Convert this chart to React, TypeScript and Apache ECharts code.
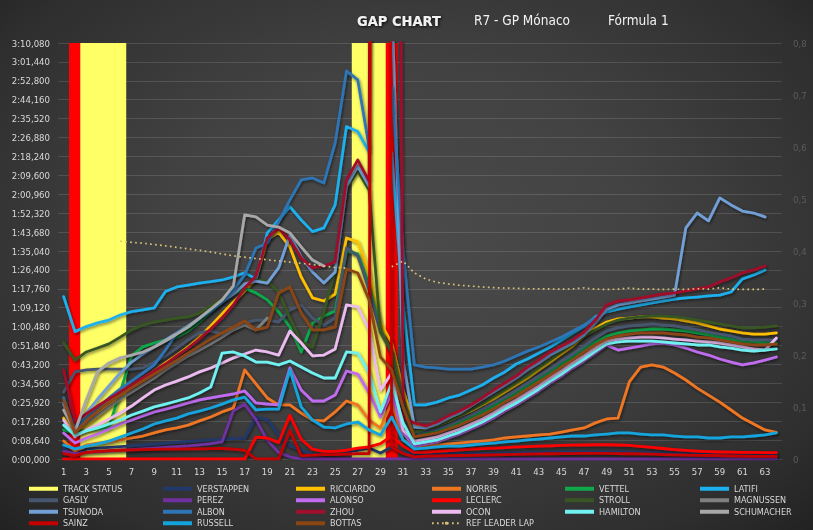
import React, { useEffect, useRef } from 'react';
import * as echarts from 'echarts';

const FONT = "'Liberation Sans Narrow', 'DejaVu Sans Condensed', 'Liberation Sans', sans-serif";

// Laps 1..64
const laps: string[] = Array.from({ length: 64 }, (_, i) => String(i + 1));

// Track status per lap: Y = yellow (SC/VSC), R = red flag
const trackStatus: (string | null)[] = [
  null, 'R', 'Y', 'Y', 'Y', 'Y', null, null, null, null, null, null, null, null, null, null,
  null, null, null, null, null, null, null, null, null, null, 'Y', 'Y', 'Y', 'R', null, null,
  null, null, null, null, null, null, null, null, null, null, null, null, null, null, null, null,
  null, null, null, null, null, null, null, null, null, null, null, null, null, null, null, null,
];
const TRACK_FLAG_VALUE = 0.8;

// Gaps to leader in seconds
const verstappen = [5, 2, 4.5, 5, 5.3, 5.7, 6, 6.4, 6.8, 7.2, 7.6, 8, 8.4, 8.7, 9, 9.3, 9.5,
  19, 18, 11, 6, 4, 2, 2, 2.5, 3.3, 4, 5, 2.7, 5.5, 3, 2,
  2.1, 2.2, 2.3, 2.4, 2.5, 2.6, 2.7, 2.8, 2.9, 3.0, 3.1, 3.2, 3.3, 3.3, 3.4, 3.4, 3.4, 3.3, 3.2, 3.1, 3.0, 2.8, 2.6, 2.4, 2.2, 2.0, 1.9, 1.8, 1.7, 1.6, 1.5, 1.5];
const ricciardo = [18.7, 11.9, 15.5, 19.7, 24.2, 28.8, 32.9, 36.6, 40.2, 43.9, 47.5, 51.2, 55.7, 60.8, 66.3, 71.7, 76.8,
  82.3, 100.1, 103.7, 96.9, 83.2, 73.6, 72.2, 75.4, 101, 99.2, 85, 62.2, 53, 31.5, 15.5,
  14.6, 15.5, 17.4, 19.7, 21.9, 24.7, 27.4, 30.6, 33.8, 37, 40.7, 44.3, 48, 51.6, 56.2, 59.9, 62.6, 64, 64.4, 64.9, 64.9, 64.4, 64, 63.1, 62.2, 60.8, 59.4, 58.5, 57.6, 57.1, 57.1, 57.6];
const norris = [8.2, 3.7, 6.4, 7.3, 7.8, 8.7, 9.6, 10.5, 11.9, 13.3, 14.2, 15.5, 17.4, 19.2, 21.5, 23.3, 40.7,
  34.3, 27.9, 24.7, 24.7, 21, 17.8, 17.4, 21.5, 26.5, 24.7, 17.8, 14.2, 26, 8.7, 5.5,
  5.9, 6.4, 6.9, 7.3, 7.8, 8.2, 8.7, 9.6, 10.1, 10.5, 11, 11.4, 12.3, 13.3, 14.2, 16.5, 18.3, 18.7, 35.2, 42, 43, 42, 39.3, 36.1, 32.4, 29.2, 26, 22.4, 18.7, 16, 13.3, 12.2];
const vettel = [13.3, 11.9, 13.3, 13.7, 14.6, 30.6, 47.1, 51.2, 53, 54.4, 55.7, 58.5, 62.6, 67.2, 71.7, 75.4, 78.1,
  75.9, 72.7, 67.2, 60.3, 48.9, 62.2, 65.3, 67.6, 95, 93.7, 79.5, 59, 48.9, 26, 10.5,
  11.9, 12.8, 14.6, 16.5, 18.7, 21.5, 24.2, 27, 30.2, 33.4, 36.6, 39.8, 43.4, 46.6, 50.3, 53.5, 56.2, 57.6, 58.5, 59, 59.4, 59.4, 59, 58.5, 57.6, 56.7, 55.7, 54.8, 53.9, 53.5, 53, 53];
const latifi = [74.2, 58.2, 60.5, 62.2, 63.5, 65.8, 67.3, 68.1, 69, 76.5, 78.6, 79.5, 80.4, 81, 81.8, 83.2, 85.1,
  82.3, 103.3, 109.2, 115.3, 109.2, 103.9, 105.6, 116.1, 151.9, 149.6, 140.4, null, 140, 70, 24.7,
  24.7, 26, 27.9, 29.2, 31.5, 33.8, 37, 39.8, 43.4, 45.7, 48.4, 51.2, 54.4, 57.6, 60.5, 65, 67.2, 68.5, 69.5, 70.4, 71.3, 72.2, 73.1, 73.6, 74, 74.5, 74.9, 76.3, 82.3, 84.1, 86.4, null];
const gasly = [30.6, 39.8, 40.7, 41.1, 41.1, 41.1, 41.1, 41.6, 44.3, 47.1, 50.7, 54.4, 57.6, 58.5, 57.1, 59, 62.2,
  63.5, 63.5, 62.6, 68.1, 70.4, 64.4, 61.2, 64.4, 96.4, 92.8, 77.2, 58, 48.9, 27, 11.4,
  12.8, 13.7, 15.5, 17.8, 20.1, 22.8, 25.6, 28.3, 31.5, 34.7, 37.9, 41.1, 44.8, 48, 51.6, 55.3, 58.5, 59.9, 60.8, 61.2, 61.7, 61.2, 60.8, 59.9, 59, 58, 57.1, 56.2, 54.8, 54.4, 54.4, 54.4];
const perez = [3.5, 2.5, 3, 3.3, 3.6, 4, 4.3, 4.6, 5, 5.3, 5.7, 6, 6.5, 7, 7.8, 22, 25,
  18, 8.5, 3, 1, 0, 0, 0, 0, 0, 0, 0, 0, 0, 0, 0,
  0, 0, 0, 0, 0, 0, 0, 0, 0, 0, 0, 0, 0, 0, 0, 0, 0, 0, 0, 0, 0, 0, 0, 0, 0, 0, 0, 0, 0, 0, 0, 0];
const alonso = [11.9, 7.3, 9.6, 11.4, 13.7, 16, 17.8, 19.7, 21.5, 22.8, 24.2, 25.6, 27, 27.9, 28.8, 29.7, 31.1,
  25.6, 25.1, 24.7, 41.6, 31.5, 26.5, 26.5, 29.2, 40.2, 38.8, 30.2, 19.2, 30.2, 11.9, 5.9,
  6.9, 7.8, 9.6, 11.4, 13.7, 16, 18.7, 21.9, 24.7, 27.9, 31.1, 34.7, 37.9, 41.6, 44.8, 48.4, 52.1, 49.8, 50.7, 51.6, 52.6, 53, 52.1, 50.7, 48.9, 47.5, 45.7, 44.3, 43, 43.9, 45.2, 46.6];
const leclerc = [0, 0, 0, 0, 0, 0, 0, 0, 0, 0, 0, 0, 0, 0, 0, 0, 0,
  10, 9.6, 7.5, 20, 9, 4.5, 3.5, 3.5, 4, 5, 5.5, 7, 10.5, 6, 3,
  3.2, 3.5, 3.8, 4.2, 4.5, 4.8, 5, 5.2, 5.5, 5.7, 5.9, 6, 6.2, 6.3, 6.4, 6.5, 6.5, 6.4, 6.2, 5.8, 5.3, 4.8, 4.3, 3.9, 3.6, 3.4, 3.2, 3.1, 3, 3, 2.9, 2.9];
const stroll = [53, 45.2, 48.9, 50.7, 52.6, 55.7, 59, 61.2, 62.6, 63.5, 64.4, 64.9, 66.7, 69.9, 73.1, 76.8, 80,
  81.8, 81.3, 76.3, 64.4, 53.5, 51.2, 67.2, 86.4, 123.8, 131.6, 122.9, 58.5, 48.9, 25.6, 12.3,
  13.7, 15.1, 17.4, 19.7, 22.4, 25.1, 28.3, 31.5, 34.7, 37.9, 41.6, 45.2, 48.9, 52.6, 56.2, 59, 61.7, 63.5, 64.4, 64.9, 65.3, 65.3, 64.9, 64.4, 63.5, 62.6, 61.7, 60.8, 59.9, 59.9, 60.3, 60.8];
const magnussen = [24.7, 12.8, 16.5, 20.1, 23.8, 27.4, 30.6, 33.8, 37, 40.7, 43.9, 47.1, 49.8, 52.6, 55.7, 59, 61.2,
  59, 64.4, null, null, null, null, null, null, null, null, null, null, null, null, null,
  null, null, null, null, null, null, null, null, null, null, null, null, null, null, null, null, null, null, null, null, null, null, null, null, null, null, null, null, null, null, null, null];
const tsunoda = [25.6, 14.2, 21, 27.4, 33.4, 39.3, 44.3, 48, 51.2, 54.4, 57.6, 60.8, 64.4, 68.1, 71.7, 75.4, 80,
  81.3, 80.4, 87.3, 102.4, 92.3, 85.5, 80.4, 85.5, 124.7, 133.9, 124.7, null, 210, 45, 14.6,
  14.2, 16, 18.7, 21, 24.2, 27.4, 30.6, 33.8, 37, 40.7, 43.9, 47.5, 50.3, 53, 56.7, 62.2, 68.5, 70.4, 71.3, 72.2, 73.1, 74, 74.9, 105.6, 112.4, 108.8, 119.3, 116.1, 113.3, 112.4, 110.6, null];
const albon = [27.9, 13.3, 18.7, 23.3, 27.9, 32, 35.6, 39.3, 43, 49.8, 57.6, 60.3, 64, 67.6, 71.7, 77.2, 84.1,
  96.4, 98.7, 108.3, 118.4, 127.5, 128.4, 126.1, 144.4, 177.3, 173.2, 142.6, null, 170, 95, 43,
  42, 41.6, 41.1, 41.1, 41.1, 42, 43, 44.8, 47.1, 49.3, 51.2, 53.5, 55.7, 58.5, 61.2, 64.4,
  null, null, null, null, null, null, null, null, null, null, null, null, null, null, null, null];
const zhou = [40.7, 16.9, 20.6, 24.2, 27.4, 30.6, 33.8, 37, 40.2, 43.4, 47.1, 50.7, 54.8, 59.4, 64.4, 70.4, 78.1,
  83.6, 101, 105.6, 100.1, 91.8, 87.3, 88.2, 90, 127.5, 136.6, 127, 2000, 1000, 19, 16.5,
  15.1, 16.9, 19.7, 21.9, 24.7, 27.9, 31.5, 34.7, 37.9, 42, 45.2, 48.9, 51.6, 54.4, 58, 63.5, 70.4, 72.2, 72.7, 73.6, 74.5, 75.4, 75.9, 76.8, 77.7, 78.6, 80.9, 82.7, 85, 86.4, 88.2, null];
const ocon = [17.8, 10.1, 13.3, 15.5, 18.3, 21, 24.2, 27.9, 31.5, 33.8, 35.6, 37.5, 39.8, 41.6, 43.9, 46.2, 48,
  49.8, 48.9, 47.5, 58.5, 53, 47.1, 47.5, 50.3, 70.4, 69.5, 59, 31.5, 39.3, 13.3, 8.2,
  9.1, 10.1, 11.9, 13.7, 16, 18.3, 21, 24.2, 27, 30.2, 33.4, 37, 40.2, 43.9, 47.1, 50.7, 53.9, 54.8, 55.3, 55.7, 55.7, 55.3, 54.8, 54.4, 53.9, 53.5, 53, 52.1, 51.2, 50.3, 49.8, 55.3];
const hamilton = [15.5, 11, 12.8, 14.2, 16, 17.8, 20.1, 21.9, 23.8, 25.1, 26.5, 27.9, 30.2, 32.9, 48.4, 48.9, 47.1,
  44.3, 44.3, 43, 44.8, 42, 39.3, 37, 37, 48.9, 48.4, 39.3, 21.5, 34.7, 16.5, 6.9,
  7.8, 8.7, 10.5, 12.3, 14.6, 16.9, 19.7, 22.8, 25.6, 28.8, 32, 35.6, 38.8, 42.5, 45.7, 49.3, 52.6, 53.5, 53.9, 53.9, 53.9, 53.5, 53, 52.6, 52.1, 52.1, 51.2, 50.7, 49.8, 49.3, 49.8, 50.3];
const schumacher = [22.4, 12.8, 27, 39.8, 43.9, 46.2, 47.5, 48.9, 51.2, 53.9, 57.1, 60.3, 64.4, 68.5, 72.7, 79.1, 111.5,
  110.6, 106.9, 106, 103.3, 96.9, 90.9, 88.2, null, null, null, null, null, null, null, null,
  null, null, null, null, null, null, null, null, null, null, null, null, null, null, null, null, null, null, null, null, null, null, null, null, null, null, null, null, null, null, null, null];
const sainz = [2.5, 1.5, 3, 3.5, 3.8, 4, 4.2, 4.3, 4.4, 4.5, 4.5, 4.6, 4.6, 4.7, 4.8, 4.5, 4,
  0, 0, 0, 13, 1.5, 1.8, 2, 2, 2.2, 2.5, 2.5, 2000, 5.5, 2.5, 1,
  1.3, 1.4, 1.5, 1.6, 1.7, 1.8, 1.9, 2, 2.1, 2.2, 2.3, 2.4, 2.5, 2.5, 2.6, 2.6, 2.6, 2.5, 2.4, 2.3, 2.2, 2, 1.9, 1.8, 1.7, 1.6, 1.5, 1.4, 1.3, 1.2, 1.2, 1.2];
const russell = [6.4, 4.6, 5.9, 6.9, 8.2, 10, 11.9, 13.7, 16, 17.4, 18.7, 20.6, 21.9, 23.3, 25.1, 27, 28.3,
  22.4, 22.8, 22.8, 40.7, 23.8, 17.8, 14.6, 14.2, 16, 16.9, 13.3, 11, 19.2, 8.7, 4.6,
  5, 5.5, 5.9, 5.9, 6.4, 6.9, 7.3, 7.8, 8.2, 8.7, 9.1, 9.6, 10.1, 10.5, 10.5, 11, 11.4, 11.9, 11.9, 11.4, 11, 11, 10.5, 10.1, 10.1, 9.6, 9.6, 10.1, 10.1, 10.5, 11, 11.9];
const bottas = [27, 11.9, 17.4, 21.9, 25.6, 29.2, 32.4, 35.6, 38.8, 42, 45.2, 48.4, 51.6, 54.8, 57.6, 60.3, 63.1,
  59, 60.3, 75.9, 78.6, 66.7, 59, 59, 60.3, 86.8, 85, 72.7, 46.6, 40.7, 23.8, 10.1,
  11, 11.9, 13.7, 15.5, 17.8, 20.1, 22.8, 26, 28.8, 32, 35.2, 38.4, 42, 45.2, 48.9, 52.1, 54.8, 56.2, 57.1, 57.6, 57.6, 57.6, 57.1, 56.7, 55.7, 55.3, 54.4, 53.5, 52.6, 52.1, 52.1, 52.5];
// Leader lap time in seconds
const refLeaderLap = [null, null, null, null, null,
  99.5, 99, 98.6, 98, 97.4, 96.7, 96, 95.3, 94.6, 93.7, 92.8, 92.2, 91.6, 91, 90.5, 90, 89.4, 88.9, 88.2, 87.5, 87.3,
  null, null, null,
  87.8, 90.5, 85, 82.3, 80.7, 80, 79.4, 79, 78.6, 78.3, 78.1, 78, 77.8, 77.8, 77.7, 77.6, 77.7, 78.2, 77.6, 77.5, 77.6,
  78.1, 77.6, 77.6, 77.5, 77.6, 77.5, 77.8, 77.6, 78.2, 77.6, 77.5, 77.5, 77.6,
  null];

// Left axis ticks (seconds)
const Y_MAX = 190.08;
const Y_STEP = 8.64;

const drivers: { name: string; color: string; data: (number | null)[] }[] = [
  { name: 'VERSTAPPEN', color: '#22396b', data: verstappen },
  { name: 'RICCIARDO', color: '#ffc000', data: ricciardo },
  { name: 'NORRIS', color: '#ef7622', data: norris },
  { name: 'VETTEL', color: '#10a84a', data: vettel },
  { name: 'LATIFI', color: '#1cb0ee', data: latifi },
  { name: 'GASLY', color: '#46566e', data: gasly },
  { name: 'PEREZ', color: '#7030a0', data: perez },
  { name: 'ALONSO', color: '#c06cf0', data: alonso },
  { name: 'LECLERC', color: '#ff0000', data: leclerc },
  { name: 'STROLL', color: '#375623', data: stroll },
  { name: 'MAGNUSSEN', color: '#808080', data: magnussen },
  { name: 'TSUNODA', color: '#72a0d6', data: tsunoda },
  { name: 'ALBON', color: '#2e75b6', data: albon },
  { name: 'ZHOU', color: '#a00f2c', data: zhou },
  { name: 'OCON', color: '#ecbcf0', data: ocon },
  { name: 'HAMILTON', color: '#70f2f2', data: hamilton },
  { name: 'SCHUMACHER', color: '#a8a8a8', data: schumacher },
  { name: 'SAINZ', color: '#c40000', data: sainz },
  { name: 'RUSSELL', color: '#14a4dc', data: russell },
  { name: 'BOTTAS', color: '#8b4513', data: bottas },
];

const legendCols = [
  ['TRACK STATUS', 'GASLY', 'TSUNODA', 'SAINZ'],
  ['VERSTAPPEN', 'PEREZ', 'ALBON', 'RUSSELL'],
  ['RICCIARDO', 'ALONSO', 'ZHOU', 'BOTTAS'],
  ['NORRIS', 'LECLERC', 'OCON', 'REF LEADER LAP'],
  ['VETTEL', 'STROLL', 'HAMILTON'],
  ['LATIFI', 'MAGNUSSEN', 'SCHUMACHER'],
];
const legendX = [29, 163, 296, 431, 565, 700];

const fmtGap = (v: number) => {
  const ms = Math.round(v * 1000);
  const m = Math.floor(ms / 60000);
  const s = Math.floor((ms % 60000) / 1000);
  const r = ms % 1000;
  return `${m}:${String(s).padStart(2, '0')},${String(r).padStart(3, '0')}`;
};

export default function App() {
  const ref = useRef<HTMLDivElement>(null);
  useEffect(() => {
    if (!ref.current) return;
    const chart = echarts.init(ref.current, undefined, { renderer: 'svg' });
    const lineSeries = drivers.map((d) => ({
      name: d.name,
      type: 'line',
      data: d.data,
      showSymbol: false,
      symbol: 'none',
      connectNulls: false,
      clip: true,
      color: d.color,
      lineStyle: {
        width: 2.8,
        color: d.color,
        cap: 'round',
        join: 'round',
        shadowColor: 'rgba(0,0,0,0.55)',
        shadowBlur: 3,
        shadowOffsetX: 1,
        shadowOffsetY: 1.5,
      },
      emphasis: { disabled: true },
      silent: true,
    }));
    const option: any = {
      animation: false,
      backgroundColor: 'transparent',
      title: [
        {
          text: 'GAP CHART', left: 357, top: 13, padding: 0,
          textStyle: {
            color: '#f2f2f2', fontSize: 14.5, fontWeight: 'bold', fontFamily: FONT,
            textShadowColor: 'rgba(0,0,0,0.9)', textShadowBlur: 3, textShadowOffsetX: 1, textShadowOffsetY: 1,
          },
        },
        { text: 'R7 - GP Mónaco', left: 474, top: 13, padding: 0, textStyle: { color: '#f2f2f2', fontSize: 13.5, fontWeight: 'normal', fontFamily: FONT } },
        { text: 'Fórmula 1', left: 608, top: 13, padding: 0, textStyle: { color: '#f2f2f2', fontSize: 13.5, fontWeight: 'normal', fontFamily: FONT } },
      ],
      legend: legendCols.map((col, i) => ({
        orient: 'vertical',
        left: legendX[i],
        top: 483,
        padding: 0,
        itemGap: 0,
        itemWidth: 29,
        itemHeight: 4,
        selectedMode: false,
        textStyle: { color: '#d9d9d9', fontSize: 9, fontFamily: FONT, lineHeight: 11.5 },
        data: col.map((n) => (n === 'REF LEADER LAP' ? { name: n } : { name: n, icon: 'rect' })),
      })),
      grid: { left: 58, right: 31, top: 43, bottom: 71, containLabel: false },
      xAxis: {
        type: 'category',
        data: laps,
        boundaryGap: true,
        axisLine: { show: false },
        axisTick: { show: false },
        axisLabel: { interval: 1, color: '#d9d9d9', fontSize: 9.5, fontFamily: FONT, margin: 7 },
        splitLine: { show: false },
      },
      yAxis: [
        {
          type: 'value',
          min: 0,
          max: Y_MAX,
          interval: Y_STEP,
          axisLine: { show: false },
          axisTick: { show: false },
          axisLabel: { color: '#d9d9d9', fontSize: 9.5, fontFamily: FONT, margin: 8, formatter: fmtGap },
          splitLine: { show: true, lineStyle: { color: 'rgba(255,255,255,0.13)', width: 1 } },
        },
        {
          type: 'value',
          position: 'right',
          min: 0,
          max: 0.8,
          interval: 0.1,
          axisLine: { show: false },
          axisTick: { show: false },
          splitLine: { show: false },
          axisLabel: {
            color: '#5c5c5c', fontSize: 9.5, fontFamily: FONT, margin: 11,
            formatter: (v: number) => String(Math.round(v * 10) / 10).replace('.', ','),
          },
        },
      ],
      series: [
        {
          name: 'TRACK STATUS',
          type: 'bar',
          yAxisIndex: 1,
          barWidth: 12,
          barCategoryGap: '0%',
          color: '#ffff66',
          itemStyle: { color: '#ffff66' },
          silent: true,
          emphasis: { disabled: true },
          data: trackStatus.map((c) =>
            c ? { value: TRACK_FLAG_VALUE, itemStyle: { color: c === 'R' ? '#ff0000' : '#ffff66' } } : '-'
          ),
        },
        ...lineSeries,
        {
          name: 'REF LEADER LAP',
          type: 'line',
          data: refLeaderLap,
          showSymbol: false,
          symbol: 'none',
          connectNulls: false,
          color: '#d8c27a',
          silent: true,
          emphasis: { disabled: true },
          lineStyle: { width: 1.7, color: '#d8c27a', type: [1.7, 3.3], cap: 'butt' },
        },
      ],
    };
    chart.setOption(option);
    return () => chart.dispose();
  }, []);
  return (
    <div
      style={{
        position: 'fixed',
        left: 0,
        top: 0,
        width: 813,
        height: 530,
        background:
          'radial-gradient(ellipse 75% 80% at 50% 45%, #4b4b4b 0%, #424242 40%, #2e2e2e 80%, #1f1f1f 100%)',
      }}
    >
      <div ref={ref} style={{ width: 813, height: 530 }} />
    </div>
  );
}
